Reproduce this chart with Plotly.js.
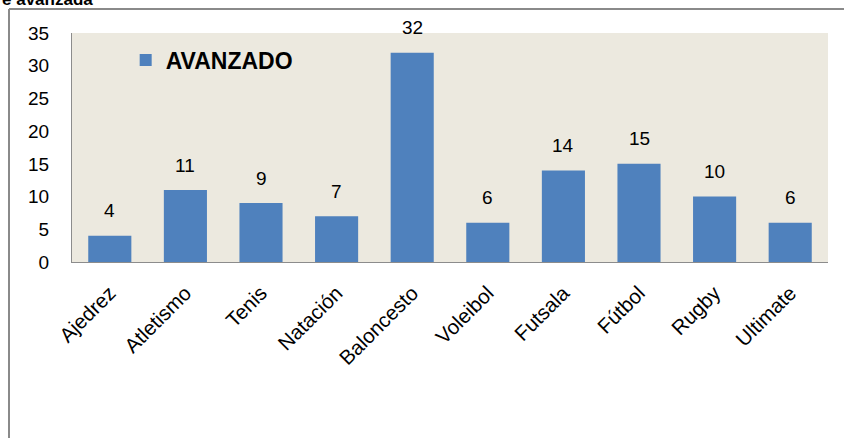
<!DOCTYPE html>
<html>
<head>
<meta charset="utf-8">
<script src="https://cdn.plot.ly/plotly-3.0.1.min.js"></script>
<style>
html,body{margin:0;padding:0;background:#fff;}
#chart{width:844px;height:438px;}
</style>
</head>
<body>
<div id="chart"></div>
<script>
const categories = ["Ajedrez","Atletismo","Tenis","Natación","Baloncesto","Voleibol","Futsala","Fútbol","Rugby","Ultimate"];
const avanzado = [4, 11, 9, 7, 32, 6, 14, 15, 10, 6];
const seriesName = "AVANZADO";
const yTicks = [0,5,10,15,20,25,30,35];
const titleText = "e avanzada";

const FONT = "Liberation Sans, Arial, sans-serif";

const trace = {
  type: "bar",
  x: categories,
  y: avanzado,
  name: seriesName,
  marker: {color: "#4F81BD"},
  showlegend: true,
  hoverinfo: "x+y"
};

const labelAnnotations = categories.map((c, i) => ({
  x: c, y: avanzado[i], xref: "x", yref: "y",
  text: String(avanzado[i]),
  showarrow: false,
  yanchor: "middle",
  yshift: 25,
  font: {family: FONT, size: 19, color: "#000"}
}));

const layout = {
  width: 844, height: 438,
  margin: {l: 72, r: 16, t: 33, b: 176},
  paper_bgcolor: "#ffffff",
  plot_bgcolor: "#ECE9DF",
  bargap: 0.43,
  font: {family: FONT, size: 19, color: "#000"},
  xaxis: {
    type: "category",
    tickangle: -45,
    showgrid: false,
    showline: true,
    linecolor: "#8C8C8C",
    linewidth: 1,
    ticks: "",
    ticklabelstandoff: 10,
    tickfont: {family: FONT, size: 20.5, color: "#000"},
    fixedrange: true
  },
  yaxis: {
    range: [0, 35],
    tickvals: yTicks,
    ticktext: yTicks.map(String),
    showgrid: false,
    zeroline: false,
    showline: true,
    linecolor: "#8C8C8C",
    linewidth: 1,
    ticks: "",
    ticklabelstandoff: 18,
    tickfont: {family: FONT, size: 19, color: "#000"},
    fixedrange: true
  },
  legend: {
    x: 0.071, y: 0.882, xanchor: "left", yanchor: "middle",
    bgcolor: "rgba(0,0,0,0)",
    font: {family: FONT, size: 23, color: "#000", weight: "bold"}
  },
  shapes: [
    {type: "line", xref: "paper", yref: "paper", x0: (9-72)/756, x1: (844-72)/756, y0: 1+(33-9)/229, y1: 1+(33-9)/229, line: {color: "#8A8A8A", width: 2}},
    {type: "line", xref: "paper", yref: "paper", x0: (9-72)/756, x1: (9-72)/756, y0: 1+(33-9)/229, y1: -(438-262)/229, line: {color: "#8A8A8A", width: 2}}
  ],
  annotations: labelAnnotations.concat([{
    xref: "paper", yref: "paper",
    x: (0-72)/756, y: 1+(33-9)/229,
    xanchor: "left", yanchor: "bottom",
    yshift: -2,
    text: "<b>" + titleText + "</b>",
    showarrow: false,
    font: {family: FONT, size: 17, color: "#000"}
  }])
};

Plotly.newPlot("chart", [trace], layout, {displayModeBar: false, staticPlot: true});
</script>
</body>
</html>
